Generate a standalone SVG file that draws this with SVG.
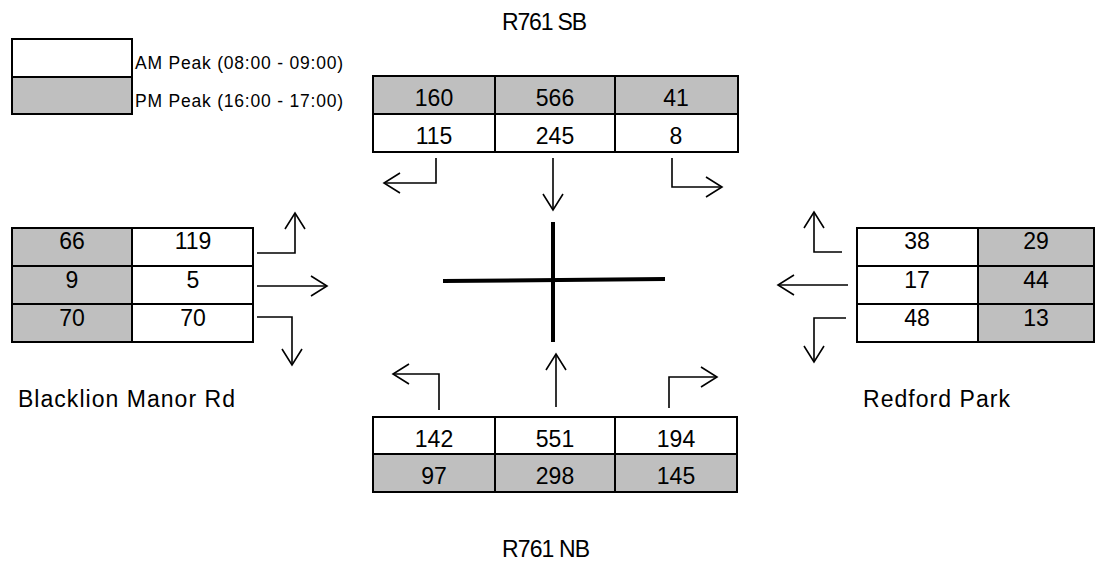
<svg xmlns="http://www.w3.org/2000/svg" width="1096" height="563" viewBox="0 0 1096 563">
<style>
.cell{stroke:#000;stroke-width:2}
.am{fill:#ffffff}
.pm{fill:#bfbfbf}
.num{font-family:"Liberation Sans",Arial,sans-serif;font-size:23px;fill:#000;text-anchor:middle}
.lbl{font-family:"Liberation Sans",Arial,sans-serif;font-size:23px;fill:#000}
.leg{font-family:"Liberation Sans",Arial,sans-serif;font-size:17.5px;fill:#000}
.arr{fill:none;stroke:#000;stroke-width:1.6;marker-end:url(#ah)}
.road{stroke:#000;stroke-width:4;fill:none}
</style>
<defs>
<marker id="ah" markerUnits="userSpaceOnUse" markerWidth="24" markerHeight="24" viewBox="-20 -12 24 24" refX="0" refY="0" orient="auto" overflow="visible">
<path d="M-16,-10 L0,0 L-16,10" fill="none" stroke="#000" stroke-width="1.6"/>
</marker>
</defs>
<rect width="1096" height="563" fill="#fff"/>

<g id="legend">
<rect class="cell am" x="12" y="39" width="120" height="38"/>
<rect class="cell pm" x="12" y="77" width="120" height="37"/>
<text class="leg" x="135" y="69" textLength="208" lengthAdjust="spacing">AM Peak (08:00 - 09:00)</text>
<text class="leg" x="135" y="107" textLength="208" lengthAdjust="spacing">PM Peak (16:00 - 17:00)</text>
</g>

<g id="label-sb"><text class="lbl" x="502" y="30" textLength="85" lengthAdjust="spacing">R761 SB</text></g>
<g id="label-nb"><text class="lbl" x="502" y="557" textLength="88" lengthAdjust="spacing">R761 NB</text></g>
<g id="label-blacklion"><text class="lbl" x="18" y="407" textLength="217" lengthAdjust="spacing">Blacklion Manor Rd</text></g>
<g id="label-redford"><text class="lbl" x="863" y="407" textLength="147" lengthAdjust="spacing">Redford Park</text></g>

<g id="table-sb">
<rect class="cell pm" x="373" y="76" width="122" height="38"/>
<rect class="cell pm" x="495" y="76" width="120" height="38"/>
<rect class="cell pm" x="615" y="76" width="123" height="38"/>
<rect class="cell am" x="373" y="114" width="122" height="38"/>
<rect class="cell am" x="495" y="114" width="120" height="38"/>
<rect class="cell am" x="615" y="114" width="123" height="38"/>
<text class="num" x="434" y="106">160</text>
<text class="num" x="555" y="106">566</text>
<text class="num" x="676" y="106">41</text>
<text class="num" x="434" y="144">115</text>
<text class="num" x="555" y="144">245</text>
<text class="num" x="676" y="144">8</text>
</g>

<g id="table-blacklion">
<rect class="cell pm" x="12" y="228" width="120" height="38"/>
<rect class="cell am" x="132" y="228" width="121" height="38"/>
<rect class="cell pm" x="12" y="266" width="120" height="38"/>
<rect class="cell am" x="132" y="266" width="121" height="38"/>
<rect class="cell pm" x="12" y="304" width="120" height="38"/>
<rect class="cell am" x="132" y="304" width="121" height="38"/>
<text class="num" x="72" y="249">66</text>
<text class="num" x="193" y="249">119</text>
<text class="num" x="72" y="288">9</text>
<text class="num" x="193" y="288">5</text>
<text class="num" x="72" y="326">70</text>
<text class="num" x="193" y="326">70</text>
</g>

<g id="table-redford">
<rect class="cell am" x="857" y="228" width="121" height="38"/>
<rect class="cell pm" x="978" y="228" width="116" height="38"/>
<rect class="cell am" x="857" y="266" width="121" height="38"/>
<rect class="cell pm" x="978" y="266" width="116" height="38"/>
<rect class="cell am" x="857" y="304" width="121" height="38"/>
<rect class="cell pm" x="978" y="304" width="116" height="38"/>
<text class="num" x="917" y="249">38</text>
<text class="num" x="1036" y="249">29</text>
<text class="num" x="917" y="288">17</text>
<text class="num" x="1036" y="288">44</text>
<text class="num" x="917" y="326">48</text>
<text class="num" x="1036" y="326">13</text>
</g>

<g id="table-nb">
<rect class="cell am" x="373" y="417" width="122" height="37"/>
<rect class="cell am" x="495" y="417" width="120" height="37"/>
<rect class="cell am" x="615" y="417" width="122" height="37"/>
<rect class="cell pm" x="373" y="454" width="122" height="38"/>
<rect class="cell pm" x="495" y="454" width="120" height="38"/>
<rect class="cell pm" x="615" y="454" width="122" height="38"/>
<text class="num" x="434" y="447">142</text>
<text class="num" x="555" y="447">551</text>
<text class="num" x="676" y="447">194</text>
<text class="num" x="434" y="484">97</text>
<text class="num" x="555" y="484">298</text>
<text class="num" x="676" y="484">145</text>
</g>

<g id="intersection">
<line class="road" x1="553" y1="222" x2="553" y2="342"/>
<line class="road" x1="443" y1="281" x2="665" y2="279" stroke-width="3.5"/>
</g>

<g id="connectors">
<polyline class="arr" points="436,158 436,183 384,183"/>
<polyline class="arr" points="553,158 553,210"/>
<polyline class="arr" points="672,158 672,187 722,187"/>
<polyline class="arr" points="257,253 295,253 295,213"/>
<polyline class="arr" points="257,286 327,286"/>
<polyline class="arr" points="257,317 292,317 292,365"/>
<polyline class="arr" points="842,252 814,252 814,212"/>
<polyline class="arr" points="848,285 778,285"/>
<polyline class="arr" points="846,318 814,318 814,362"/>
<polyline class="arr" points="439,410 439,374 393,374"/>
<polyline class="arr" points="556,407 556,354"/>
<polyline class="arr" points="669,408 669,377 717,377"/>
</g>
</svg>
